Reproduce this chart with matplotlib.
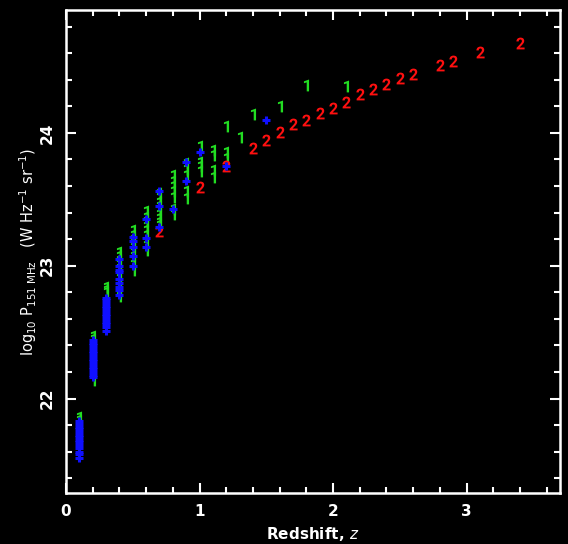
import matplotlib
matplotlib.use("Agg")
import matplotlib.pyplot as plt
from matplotlib.ticker import MultipleLocator
from matplotlib.textpath import TextPath
from matplotlib.font_manager import FontProperties
from matplotlib.path import Path

# sample 1 (green "1" symbols)
z1 = [0.1, 0.1,
      0.2, 0.2, 0.2,
      0.3, 0.3, 0.3,
      0.4, 0.4, 0.4, 0.4, 0.4, 0.4, 0.4, 0.4, 0.4, 0.4, 0.4,
      0.5, 0.5, 0.5, 0.5, 0.5, 0.5, 0.5, 0.5, 0.5, 0.5,
      0.6, 0.6, 0.6, 0.6, 0.6, 0.6, 0.6, 0.6, 0.6,
      0.7, 0.7, 0.7, 0.7, 0.7, 0.7, 0.7, 0.7, 0.7,
      0.8, 0.8, 0.8, 0.8, 0.8, 0.8, 0.8,
      0.9, 0.9, 0.9, 0.9, 0.9,
      1.0, 1.0, 1.0, 1.0,
      1.1, 1.1, 1.1, 1.1,
      1.2, 1.2, 1.2,
      1.3, 1.4, 1.6, 1.8, 2.1]
p1 = [21.86, 21.84,
      22.47, 22.45, 22.14,
      22.84, 22.82, 22.80,
      23.10, 23.07, 23.04, 23.01, 22.98, 22.94, 22.91, 22.87, 22.84, 22.80, 22.77,
      23.27, 23.23, 23.20, 23.17, 23.14, 23.10, 23.07, 23.04, 23.01, 22.97,
      23.41, 23.37, 23.34, 23.30, 23.27, 23.23, 23.19, 23.16, 23.12,
      23.55, 23.52, 23.48, 23.45, 23.42, 23.39, 23.36, 23.33, 23.31,
      23.68, 23.64, 23.60, 23.56, 23.52, 23.43, 23.39,
      23.77, 23.73, 23.68, 23.56, 23.51,
      23.90, 23.78, 23.75, 23.71,
      23.87, 23.83, 23.72, 23.67,
      24.05, 23.86, 23.81,
      23.97, 24.14, 24.20, 24.36, 24.35]

# sample 2 (red "2" symbols)
z2 = [0.7, 1.0, 1.2, 1.4, 1.5, 1.6, 1.7, 1.8, 1.9, 2.0, 2.1, 2.2, 2.3, 2.4,
      2.5, 2.6, 2.8, 2.9, 3.1, 3.4]
p2 = [23.26, 23.59, 23.75, 23.89, 23.95, 24.01, 24.07, 24.10, 24.15, 24.19,
      24.23, 24.29, 24.33, 24.37, 24.41, 24.44, 24.51, 24.54, 24.61, 24.68]

# sample 3 (blue crosses)
z3 = [0.1] * 14 + [0.2] * 15 + [0.3] * 13 + [0.4] * 9 + [0.5] * 5 + \
     [0.6] * 3 + [0.7] * 3 + [0.8, 0.9, 0.9, 1.0, 1.2, 1.5]
p3 = [21.83, 21.81, 21.79, 21.77, 21.75, 21.73, 21.71, 21.69, 21.67, 21.65,
      21.63, 21.60, 21.58, 21.55,
      22.44, 22.42, 22.40, 22.38, 22.36, 22.34, 22.32, 22.30, 22.28, 22.26,
      22.24, 22.22, 22.20, 22.18, 22.16,
      22.76, 22.74, 22.72, 22.70, 22.68, 22.66, 22.64, 22.62, 22.60, 22.58,
      22.56, 22.54, 22.51,
      23.05, 23.00, 22.97, 22.95, 22.90, 22.87, 22.84, 22.82, 22.78,
      23.22, 23.19, 23.14, 23.07, 23.00,
      23.35, 23.21, 23.14,
      23.56, 23.45, 23.29,
      23.43, 23.78, 23.64, 23.86, 23.75, 24.10]


def glyph_marker(ch):
    # digit outline as a centred marker path
    tp = TextPath((0, 0), ch, size=10,
                  prop=FontProperties(family="Roboto", weight="bold"))
    ext = tp.get_extents()
    v = tp.vertices.copy()
    v[:, 0] -= (ext.x0 + ext.x1) / 2
    v[:, 1] -= (ext.y0 + ext.y1) / 2
    v[tp.codes == Path.CLOSEPOLY] = 0.0
    return Path(v, tp.codes)


fig = plt.figure(figsize=(5.68, 5.44), dpi=100, facecolor="black")
ax = fig.add_axes([0.1162, 0.0938, 0.8697, 0.8878], facecolor="black")

ax.plot(z1, p1, linestyle="none", marker=glyph_marker("1"), markersize=8.5,
        color="#22dd22", markeredgewidth=0)
ax.plot(z2, p2, linestyle="none", marker=glyph_marker("2"), markersize=8.5,
        color="#ff1010", markeredgewidth=0)
ax.plot(z3, p3, linestyle="none", marker="+", markersize=5.5,
        color="#1010ff", markeredgewidth=2.2)

ax.set_xlim(0, 3.7)
ax.set_ylim(21.29, 24.925)

ax.xaxis.set_major_locator(MultipleLocator(1))
ax.xaxis.set_minor_locator(MultipleLocator(0.2))
ax.yaxis.set_major_locator(MultipleLocator(1))
ax.yaxis.set_minor_locator(MultipleLocator(0.2))

for s in ax.spines.values():
    s.set_color("white")
    s.set_linewidth(1.8)

ax.tick_params(which="both", direction="in", colors="white", top=True, right=True,
               labelsize=11, width=1.5)
ax.tick_params(which="major", length=7, pad=8)
ax.tick_params(which="minor", length=4)
for lab in ax.get_xticklabels() + ax.get_yticklabels():
    lab.set_fontweight("bold")
for lab in ax.get_yticklabels():
    lab.set_rotation(90)
    lab.set_va("center")

ax.set_xlabel(r"Redshift, $z$", color="white", fontsize=11, fontweight="bold")
ax.set_ylabel(r"log$_{10}$ P$_{151\ \mathrm{MHz}}$   (W Hz$^{-1}$ sr$^{-1}$)",
              color="white", fontsize=10.5, labelpad=1)

fig.savefig("out.png", dpi=100, facecolor="black")
